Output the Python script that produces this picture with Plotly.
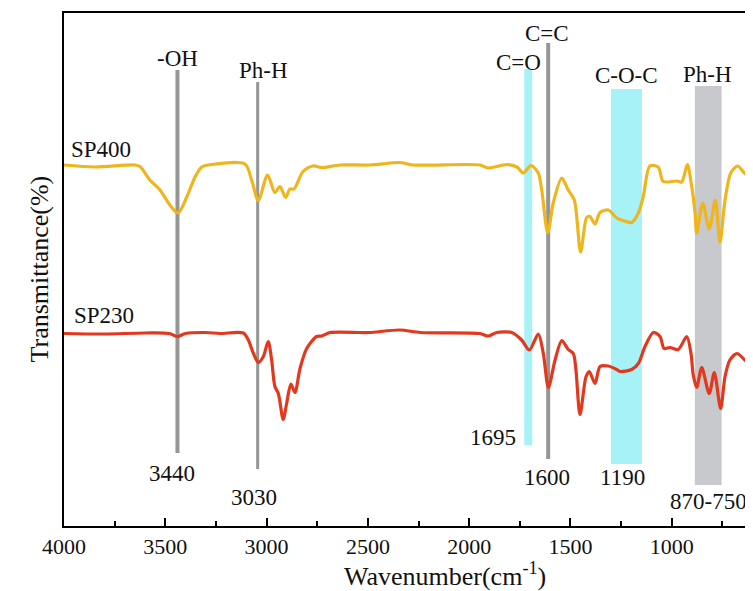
import plotly.graph_objects as go

# ---- data (wavenumber in cm^-1, transmittance in arbitrary %-units) ----
sp400_wn = [4000, 3847, 3650, 3625, 3576, 3526, 3477, 3437, 3394, 3353, 3320, 3289, 3107, 3074,
            3041, 2995, 2959, 2934, 2906, 2885, 2865, 2820, 2770, 2728, 2638, 2490, 2342, 2277,
            1947, 1907, 1813, 1764, 1733, 1695, 1659, 1642, 1612, 1585, 1543, 1511, 1481, 1450,
            1420, 1404, 1379, 1354, 1313, 1272, 1241, 1198, 1165, 1141, 1108, 1067, 1042, 976,
            951, 923, 902, 885, 877, 847, 815, 785, 762, 737, 709, 675, 630, 599]
sp400_t = [72.2, 71.8, 72.2, 71.9, 69.2, 67.2, 64.2, 62.6, 65.8, 69.8, 71.8, 72.2, 72.4, 69.2,
           65.1, 70.2, 66.7, 67.9, 65.7, 67.4, 67.4, 70.9, 72.0, 71.7, 72.2, 72.2, 72.7, 72.2,
           72.2, 71.6, 72.3, 71.8, 70.6, 72.1, 70.6, 67.2, 58.6, 64.6, 69.6, 67.2, 65.2, 54.8,
           61.7, 61.9, 60.4, 62.7, 63.2, 61.6, 61.1, 60.7, 62.6, 65.8, 72.0, 71.8, 68.9, 69.0,
           68.8, 72.3, 68.0, 62.6, 58.6, 64.6, 59.4, 65.2, 56.8, 65.2, 70.6, 72.0, 70.2, 70.6]

sp230_wn = [4000, 3800, 3600, 3480, 3440, 3400, 3300, 3230, 3115, 3090, 3066, 3041, 3016, 2992,
            2975, 2959, 2942, 2918, 2901, 2880, 2860, 2835, 2802, 2753, 2728, 2687, 2539, 2490,
            2342, 2240, 1947, 1906, 1864, 1790, 1741, 1703, 1659, 1634, 1609, 1576, 1543, 1511,
            1486, 1473, 1453, 1423, 1407, 1379, 1354, 1313, 1272, 1256, 1198, 1165, 1132, 1091,
            1058, 1038, 1009, 968, 926, 905, 894, 877, 852, 815, 790, 759, 737, 713, 677, 630, 599]
sp230_t = [38.5, 38.4, 38.6, 38.5, 37.9, 38.5, 38.7, 38.5, 38.6, 37.2, 34.6, 32.7, 33.9, 36.9,
           33.2, 27.9, 26.5, 21.3, 24.5, 28.4, 26.7, 31.5, 35.5, 37.9, 38.0, 38.7, 38.7, 38.7,
           39.2, 38.7, 38.5, 38.0, 38.7, 38.7, 37.2, 35.2, 38.4, 34.5, 27.7, 33.2, 37.1, 35.3,
           34.5, 31.2, 22.3, 29.9, 30.9, 28.5, 31.9, 32.0, 31.3, 30.9, 31.3, 32.5, 35.9, 38.7,
           37.9, 35.5, 35.7, 35.3, 37.9, 34.5, 30.2, 27.7, 31.7, 26.5, 30.7, 23.5, 29.9, 33.2,
           34.5, 32.9, 32.9]

# marker lines: wavenumber, bottom, top
line_wn = [3440, 3044, 1610]
line_bottom = [14.6, 11.4, 13.4]
line_top = [91.2, 88.8, 96.6]

# bands: high wn, low wn, bottom, top
band_hi = [1728, 1300, 886]
band_lo = [1689, 1147, 754]
band_bottom = [16.2, 12.4, 8.2]
band_top = [91.4, 87.4, 88.0]

group_labels = ["-OH", "Ph-H", "C=C", "C=O", "C-O-C", "Ph-H"]
group_x = [3440, 3013, 1616, 1759, 1221, 826]
group_y = [93.6, 91.2, 98.6, 92.8, 90.2, 90.4]

num_labels = ["3440", "3030", "1695", "1600", "1190", "870-750"]
num_x = [3467, 3062, 1882, 1616, 1241, 821]
num_y = [10.6, 5.8, 17.8, 9.8, 9.8, 5.0]

series_names = ["SP400", "SP230"]
series_label_x = [3975, 3960]
series_label_y = [75.4, 42.2]

tick_vals = [4000, 3500, 3000, 2500, 2000, 1500, 1000]
tick_text = ["4000", "3500", "3000", "2500", "2000", "1500", "1000"]
minor_vals = [3750, 3250, 2750, 2250, 1750, 1250, 750]

FONT = "Liberation Serif, Times New Roman, serif"
TXT = "#111"

fig = go.Figure()
fig.add_trace(go.Scatter(x=sp400_wn, y=sp400_t, mode="lines", name="SP400",
                         line=dict(color="#EFB51C", width=3.2, shape="spline", smoothing=0.8)))
fig.add_trace(go.Scatter(x=sp230_wn, y=sp230_t, mode="lines", name="SP230",
                         line=dict(color="#E2381E", width=3.2, shape="spline", smoothing=0.8)))

band_colors = ["#A6F2F6", "#A6F2F6", "#C8C9CD"]
for hi, lo, b, t, c in zip(band_hi, band_lo, band_bottom, band_top, band_colors):
    fig.add_shape(type="rect", x0=hi, x1=lo, y0=b, y1=t, xref="x", yref="y",
                  fillcolor=c, line=dict(width=0), layer="below")

line_widths = [4, 3, 4]
for wn, b, t, w in zip(line_wn, line_bottom, line_top, line_widths):
    fig.add_shape(type="line", x0=wn, x1=wn, y0=b, y1=t, xref="x", yref="y",
                  line=dict(color="#959595", width=w), layer="below")

for txt, x, y in zip(group_labels + num_labels, group_x + num_x, group_y + num_y):
    fig.add_annotation(x=x, y=y, text=txt, showarrow=False, xref="x", yref="y",
                       font=dict(family=FONT, size=23, color=TXT))

for txt, x, y in zip(series_names, series_label_x, series_label_y):
    fig.add_annotation(x=x, y=y, text=txt, showarrow=False, xref="x", yref="y",
                       xanchor="left", font=dict(family=FONT, size=23, color=TXT))

# axis titles
fig.add_annotation(x=0.553, y=-0.094, xref="paper", yref="paper", showarrow=False,
                   yanchor="middle",
                   text="Wavenumber(cm<sup>-1</sup>)", font=dict(family=FONT, size=26, color=TXT))
fig.add_annotation(x=-0.0595, y=0.501, xref="paper", yref="paper", showarrow=False,
                   textangle=-90, text="Transmittance(%)",
                   font=dict(family=FONT, size=26, color=TXT))

fig.update_layout(
    width=745, height=583,
    margin=dict(l=56, r=0, t=5, b=65, autoexpand=False),
    paper_bgcolor="white", plot_bgcolor="white",
    showlegend=False,
    font=dict(family=FONT, size=21, color=TXT),
    xaxis=dict(
        range=[4000, 599], showgrid=False, zeroline=False, automargin=False,
        showline=True, linecolor="black", linewidth=2, mirror=True,
        ticks="inside", ticklen=8, tickwidth=2, tickcolor="black",
        tickvals=tick_vals, ticktext=tick_text,
        minor=dict(tickvals=minor_vals, ticks="inside", ticklen=5, tickwidth=2,
                   tickcolor="black"),
        tickfont=dict(family=FONT, size=22, color=TXT),
    ),
    yaxis=dict(
        range=[0, 102.6], showgrid=False, zeroline=False, automargin=False,
        showline=True, linecolor="black", linewidth=2, mirror=False,
        showticklabels=False, ticks="",
    ),
)

fig.write_html("out.html")
